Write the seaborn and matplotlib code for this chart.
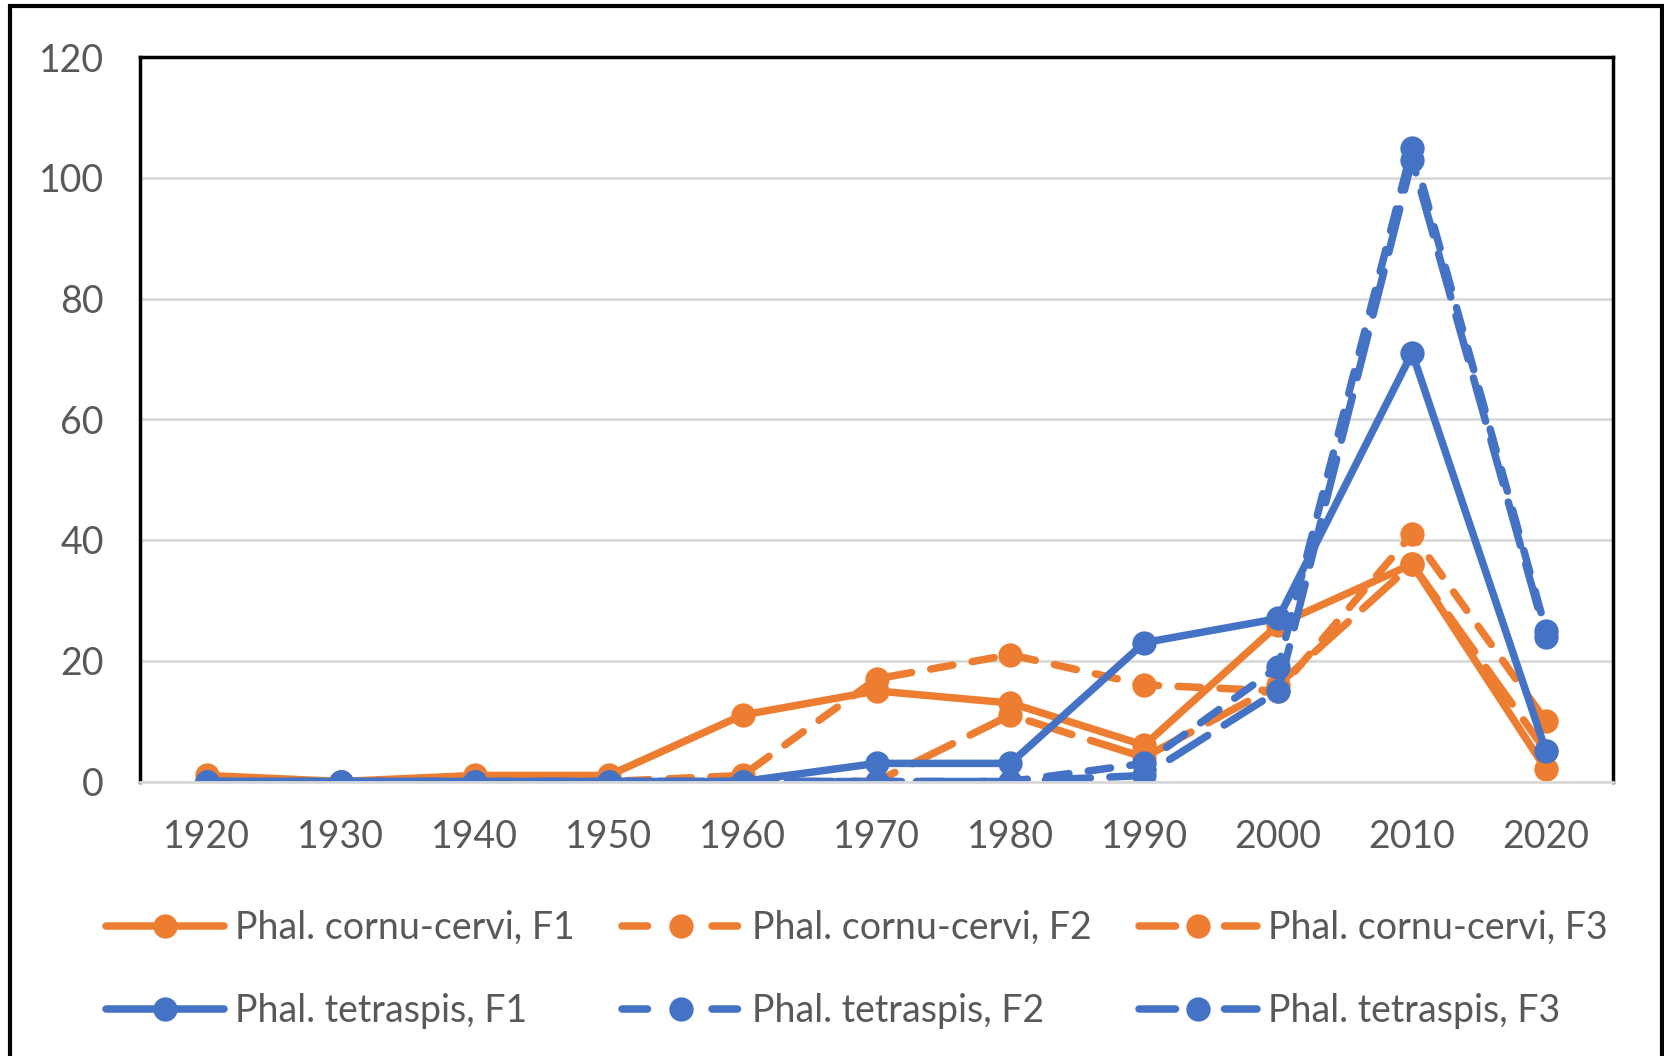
import numpy as np
import pandas as pd
import seaborn as sns
import matplotlib.pyplot as plt
from matplotlib.patches import Rectangle
from matplotlib.lines import Line2D

#data
years = [1920, 1930, 1940, 1950, 1960, 1970, 1980, 1990, 2000, 2010, 2020]
cornu_f1 = [1, 0, 1, 1, 11, 15, 13, 6, 26, 36, 2]
cornu_f2 = [0, 0, 0, 0, 1, 17, 21, 16, 15, 41, 10]
cornu_f3 = [0, 0, 0, 0, 0, 0, 11, 4, 16, 36, 5]
tetra_f1 = [0, 0, 0, 0, 0, 3, 3, 23, 27, 71, 5]
tetra_f2 = [0, 0, 0, 0, 0, 0, 0, 3, 19, 105, 25]
tetra_f3 = [0, 0, 0, 0, 0, 0, 0, 1, 15, 103, 24]

names = ['Phal. cornu-cervi, F1', 'Phal. cornu-cervi, F2', 'Phal. cornu-cervi, F3',
         'Phal. tetraspis, F1', 'Phal. tetraspis, F2', 'Phal. tetraspis, F3']
series = [cornu_f1, cornu_f2, cornu_f3, tetra_f1, tetra_f2, tetra_f3]

orange = '#ED7D31'
blue = '#4472C4'
colors = [orange] * 3 + [blue] * 3
styles = ['-', (0, (3.0, 2.6)), (0, (6.0, 2.6))] * 2
#legend handles get their own dash so the gaps sit around the marker
leg_styles = ['-', (0, (3.4, 8.6)), (0, (4.87, 6.53))] * 2

df = pd.DataFrame({'year': years})
for n, s in zip(names, series):
    df[n] = s

sns.set_style('white')
plt.rcParams['font.family'] = ['Lato', 'DejaVu Sans']
fs = 27
lw = 5.4
ms = 17.5

fig = plt.figure(figsize=(16.65, 10.56), dpi=100)
ax = fig.add_axes([140 / 1665, 1 - 781.5 / 1056, (1613 - 140) / 1665, (781.5 - 57) / 1056])

for n, c, ls in zip(names, colors, styles):
    sns.lineplot(data=df, x='year', y=n, ax=ax, color=c, linestyle=ls, lw=lw,
                 marker='o', markersize=ms, markeredgewidth=0, markeredgecolor=c,
                 dash_capstyle='round', solid_capstyle='round', legend=False)

ax.set_xlim(1915, 2025)
ax.set_ylim(0, 120)
ax.set_xticks(years)
ax.set_yticks(range(0, 121, 20))
ax.set_xlabel('')
ax.set_ylabel('')
ax.grid(axis='y', color='#D9D9D9', lw=2)
ax.set_axisbelow(True)
ax.tick_params(axis='both', length=0, labelsize=fs, labelcolor='#595959')
ax.tick_params(axis='x', pad=27)
ax.tick_params(axis='y', pad=26)
for side in ['left', 'top', 'right']:
    ax.spines[side].set_color('black')
    ax.spines[side].set_linewidth(2.5)
ax.spines['bottom'].set_color('#D9D9D9')
ax.spines['bottom'].set_linewidth(2)

#legend: 3 columns, orange row on top
handles = [Line2D([], [], color=c, lw=lw, linestyle=ls, marker='o', markersize=ms,
                  markeredgewidth=0, dash_capstyle='round', solid_capstyle='round')
           for c, ls in zip(colors, leg_styles)]
order = [0, 3, 1, 4, 2, 5]
fig.legend([handles[i] for i in order], [names[i] for i in order],
           ncol=3, loc='upper left', bbox_to_anchor=(72 / 1665, 1 - 876 / 1056),
           frameon=False, fontsize=fs, labelcolor='#595959',
           handlelength=3.15, handletextpad=0.3, columnspacing=1.27, labelspacing=1.27)

fig.patches.append(Rectangle((10 / 1665, -0.02), (1662 - 10) / 1665, 1.02 - 6 / 1056,
                             transform=fig.transFigure, fill=False, ec='black', lw=3))

plt.savefig('out.png', dpi=100)
